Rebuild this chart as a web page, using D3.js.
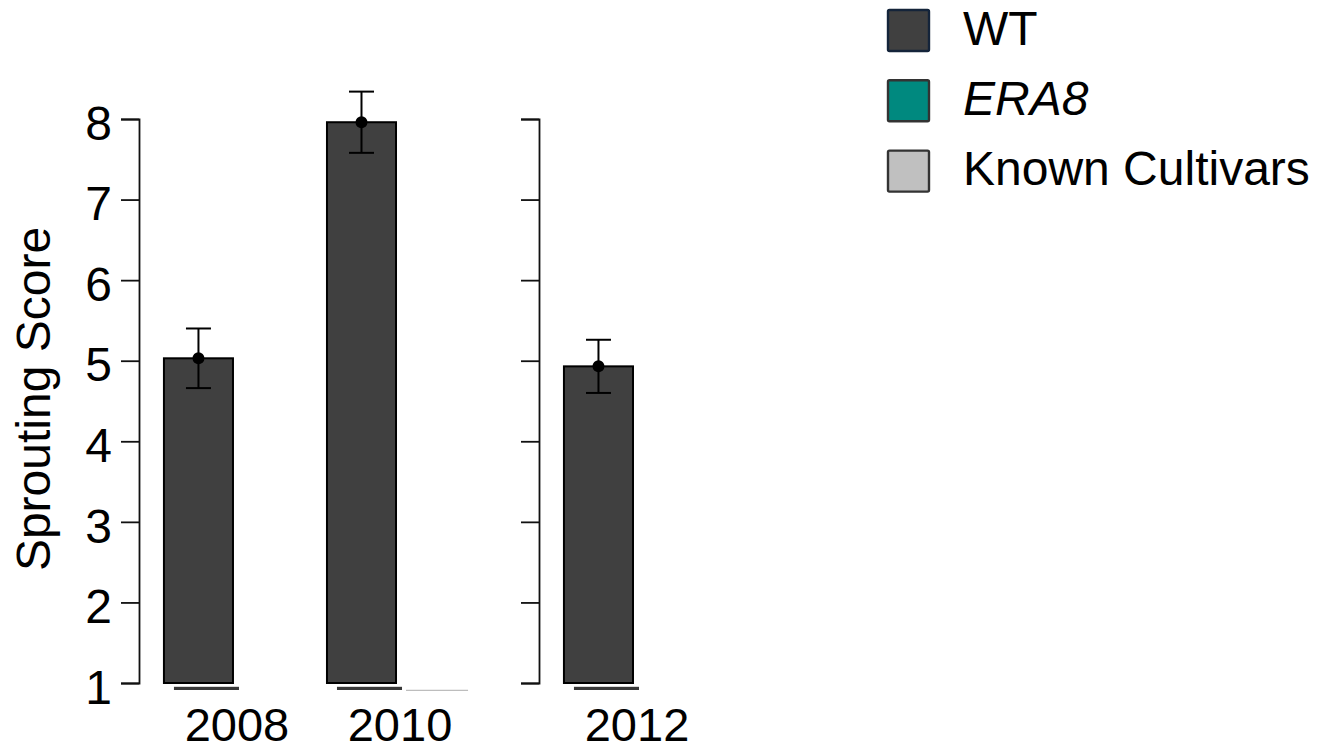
<!DOCTYPE html>
<html>
<head>
<meta charset="utf-8">
<script src="https://cdn.jsdelivr.net/npm/d3@7"></script>
<style>
  html, body { margin: 0; padding: 0; background: #fff; }
  svg { display: block; font-family: "Liberation Sans", Arial, sans-serif; }
</style>
</head>
<body>
<svg id="chart" width="1323" height="751"></svg>
<script>
// Sprouting score per year (mean ± error)
const years = ["2008", "2010", "2012"];
const panelYears = [["2008", "2010"], ["2012"]];
const wtMean = [5.03, 7.96, 4.93];
const wtErr = [0.37, 0.38, 0.33];
// Known cultivars: only 2010 has an entry, sitting on the axis floor
const knownMean = [null, 1.0, null];
const seriesNames = ["WT", "ERA8", "Known Cultivars"];
const seriesColors = ["#404040", "#00897f", "#c0c0c0"];
const seriesStrokes = ["#14243a", "#333333", "#333333"];
const yTicks = [1, 2, 3, 4, 5, 6, 7, 8];

const svg = d3.select("#chart");
const y = d3.scaleLinear().domain([1, 8]).range([683, 119]);

const panelRanges = [[139, 498], [539, 735]];
const padInner = 0.104, padOuter = 0.153;

panelYears.forEach((ys, pi) => {
  const [r0, r1] = panelRanges[pi];
  const x = d3.scaleBand().domain(ys).range([r0, r1])
    .paddingInner(padInner).paddingOuter(padOuter);
  const sub = d3.scaleBand().domain(["WT", "other"]).range([0, x.bandwidth()])
    .paddingInner(padInner).paddingOuter(0);

  // axis bracket
  const ax = d3.axisLeft(y).tickValues(yTicks).tickSize(18).tickSizeOuter(18).tickPadding(9)
    .tickFormat(pi > 0 ? "" : d3.format("d"));
  const g = svg.append("g").attr("transform", `translate(${r0},0)`).call(ax);
  g.select(".domain").attr("stroke", "#111").attr("stroke-width", 1.8);
  g.selectAll(".tick line").attr("stroke", "#111").attr("stroke-width", 1.8);
  g.selectAll(".tick text").attr("font-size", 48).attr("fill", "#000")
    .attr("font-family", "Liberation Sans, Arial, sans-serif").attr("dy", "0.42em");

  const rows = ys.map(yr => {
    const i = years.indexOf(yr);
    return { year: yr, mean: wtMean[i], err: wtErr[i], known: knownMean[i] };
  });

  const grp = svg.selectAll(null).data(rows).enter().append("g")
    .attr("transform", d => `translate(${x(d.year)},0)`);

  // floor strip beneath each WT bar
  grp.append("rect")
    .attr("x", sub("WT") + 10).attr("y", y(1) + 3.8)
    .attr("width", sub.bandwidth() - 4).attr("height", 3.2)
    .attr("fill", "#383838");

  // known cultivars entry on the floor
  grp.filter(d => d.known != null).append("line")
    .attr("x1", sub("other") + 2).attr("x2", sub("other") + sub.bandwidth() - 5)
    .attr("y1", d => y(d.known) + 7.3).attr("y2", d => y(d.known) + 7.3)
    .attr("stroke", "#bdbdbd").attr("stroke-width", 1.2);

  // WT bars
  grp.append("rect")
    .attr("x", sub("WT")).attr("y", d => y(d.mean))
    .attr("width", sub.bandwidth()).attr("height", d => y(1) - y(d.mean))
    .attr("fill", seriesColors[0]).attr("stroke", "#000").attr("stroke-width", 2);

  const cx = sub("WT") + sub.bandwidth() / 2;
  grp.append("line")
    .attr("x1", cx).attr("x2", cx)
    .attr("y1", d => y(d.mean + d.err)).attr("y2", d => y(d.mean - d.err))
    .attr("stroke", "#000").attr("stroke-width", 2);
  [1, -1].forEach(s => {
    grp.append("line")
      .attr("x1", cx - 12.5).attr("x2", cx + 12.5)
      .attr("y1", d => y(d.mean + s * d.err)).attr("y2", d => y(d.mean + s * d.err))
      .attr("stroke", "#000").attr("stroke-width", 2);
  });
  grp.append("circle").attr("cx", cx).attr("cy", d => y(d.mean)).attr("r", 6).attr("fill", "#000");

  // year labels
  grp.append("text")
    .attr("x", x.bandwidth() / 2).attr("y", 741)
    .attr("text-anchor", "middle").attr("font-size", 47).attr("fill", "#000")
    .text(d => d.year);
});

// y-axis title
svg.append("text")
  .attr("transform", "translate(50,399) rotate(-90)")
  .attr("text-anchor", "middle").attr("font-size", 48).attr("fill", "#000")
  .text("Sprouting Score");

// legend
const leg = svg.append("g").attr("transform", "translate(888,10)");
const li = leg.selectAll("g").data(seriesNames).enter().append("g")
  .attr("transform", (d, i) => `translate(0,${i * 70.3})`);
li.append("rect").attr("x", 0).attr("y", 0).attr("width", 41).attr("height", 41).attr("rx", 1.5)
  .attr("fill", (d, i) => seriesColors[i]).attr("stroke", (d, i) => seriesStrokes[i]).attr("stroke-width", 2.4);
li.append("text").attr("x", 75).attr("y", 34.5).attr("font-size", 48).attr("fill", "#000")
  .attr("font-style", d => d === "ERA8" ? "italic" : "normal")
  .text(d => d);
</script>
</body>
</html>
